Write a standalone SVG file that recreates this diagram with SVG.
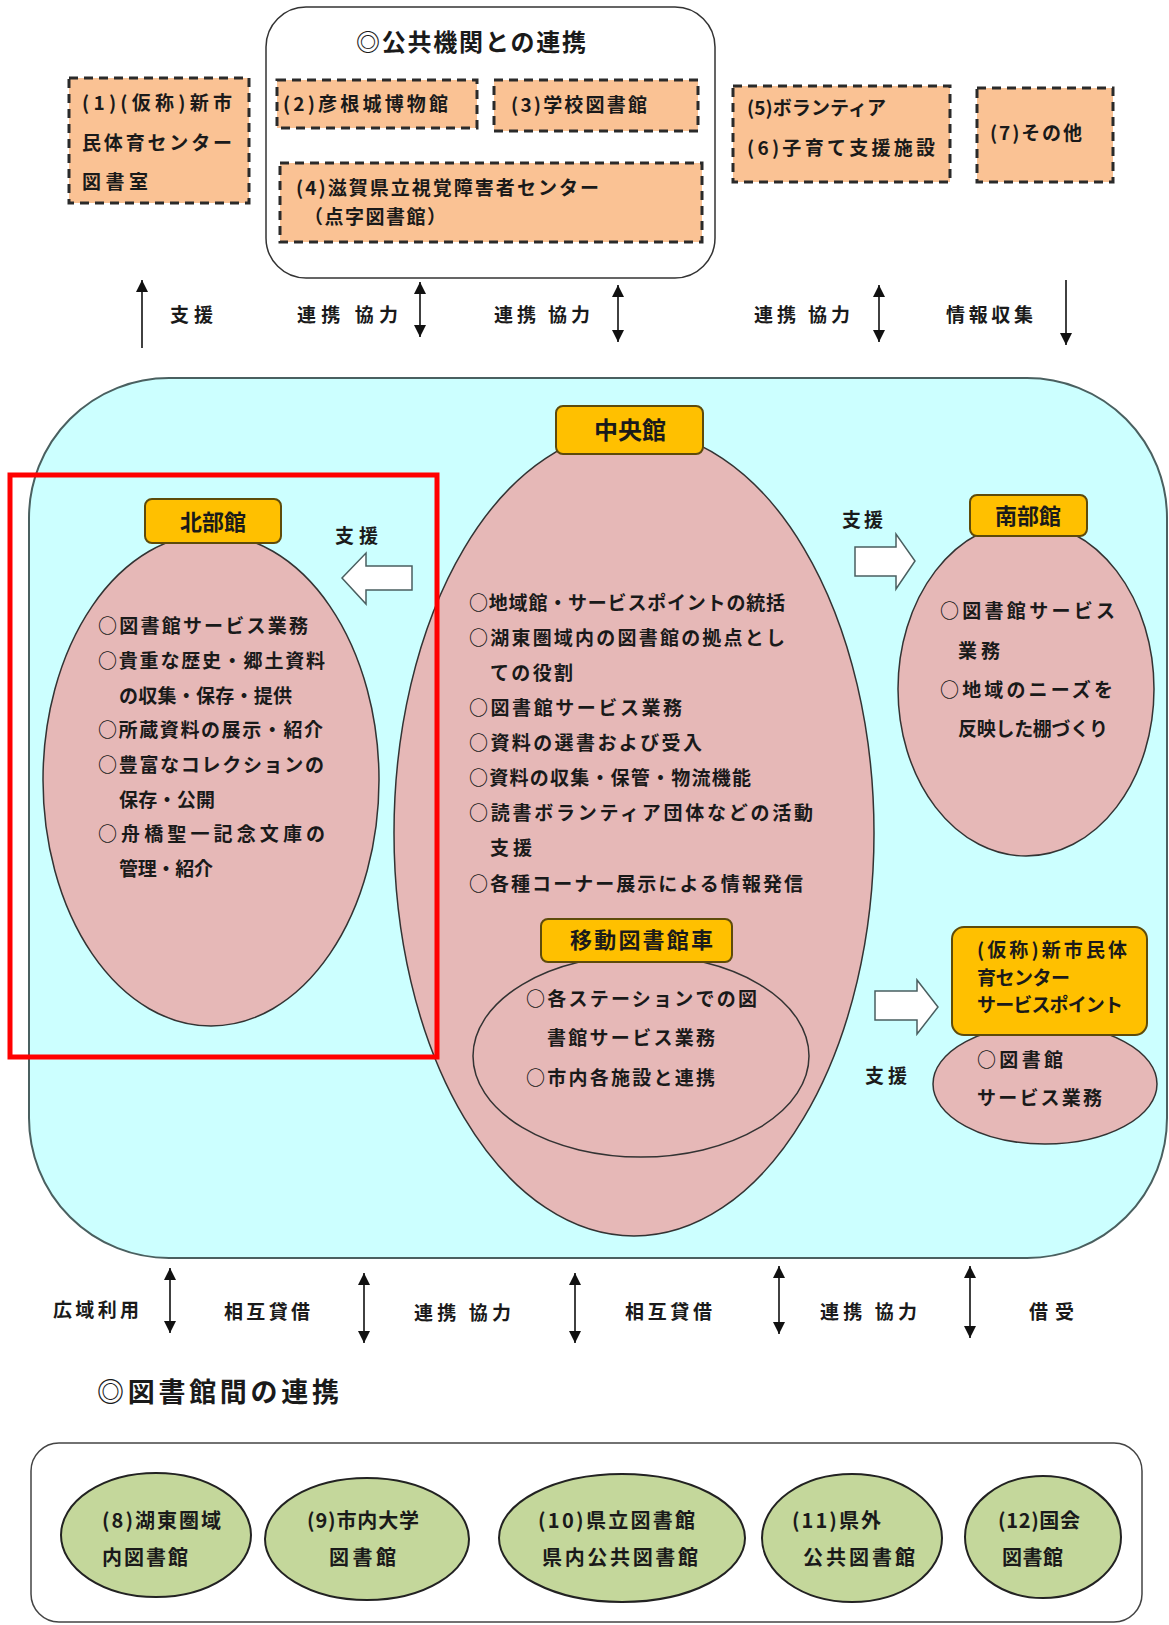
<svg xmlns="http://www.w3.org/2000/svg" width="1169" height="1625" viewBox="0 0 1169 1625">
<style>
.t{font-family:"Noto Sans CJK JP","Noto Sans CJK SC",sans-serif;font-weight:700;font-size:19px;fill:#1a1a1a}
.c{text-anchor:middle}
.big{font-size:24px}
.lab{font-size:22px}
.g{font-size:20px}
.dash{fill:#FAC294;stroke:#2a2a2a;stroke-width:3;stroke-dasharray:9 6}
.gold{fill:#FFC000;stroke:#5e4b0a;stroke-width:2}
.pink{fill:#E6B8B7;stroke:#333;stroke-width:1.5}
.green{fill:#C4D79B;stroke:#222;stroke-width:2}
.ln{stroke:#111;stroke-width:1.6;fill:none}
.blk{fill:#fff;stroke:#4a5f60;stroke-width:1.5}
</style>
<defs>
<marker id="ah" viewBox="0 0 12 12" refX="12" refY="6" markerWidth="12" markerHeight="12" markerUnits="userSpaceOnUse" orient="auto-start-reverse"><path d="M0,0 L12,6 L0,12 z" fill="#111"/></marker>
</defs>
<rect width="1169" height="1625" fill="#fff"/>

<g id="public-group">
<rect x="266" y="7" width="449" height="271" rx="40" fill="#fff" stroke="#333" stroke-width="1.5"/>
<text class="t big" x="356" y="51" textLength="230">◎公共機関との連携</text>
</g>
<g id="n1"><rect class="dash" x="69" y="78" width="180" height="125"/>
<text class="t" x="82" y="110" textLength="150">(1)(仮称)新市</text>
<text class="t" x="82" y="150" textLength="150">民体育センター</text>
<text class="t" x="82" y="189" textLength="66">図書室</text></g>
<g id="n2"><rect class="dash" x="277" y="80" width="200" height="48"/>
<text class="t" x="283" y="111" textLength="165">(2)彦根城博物館</text></g>
<g id="n3"><rect class="dash" x="494" y="80" width="204" height="51"/>
<text class="t" x="511" y="112" textLength="136">(3)学校図書館</text></g>
<g id="n4"><rect class="dash" x="280" y="163" width="422" height="79"/>
<text class="t" x="296" y="195" textLength="303">(4)滋賀県立視覚障害者センター</text>
<text class="t" x="304" y="224" textLength="142">（点字図書館）</text></g>
<g id="n56"><rect class="dash" x="733" y="86" width="217" height="96"/>
<text class="t" x="747" y="115" textLength="139">(5)ボランティア</text>
<text class="t" x="747" y="155" textLength="188">(6)子育て支援施設</text></g>
<g id="n7"><rect class="dash" x="977" y="88" width="136" height="94"/>
<text class="t" x="990" y="140" textLength="92">(7)その他</text></g>

<g id="city-area">
<rect x="29" y="378" width="1138" height="880" rx="140" fill="#CCFFFF" stroke="#4a6060" stroke-width="2"/>
</g>

<g id="north">
<ellipse class="pink" cx="211" cy="780" rx="168" ry="246"/>
<rect class="gold" x="145" y="499" width="136" height="44" rx="7"/>
<text class="t lab c" x="213" y="530">北部館</text>
<text class="t" x="98" y="633" textLength="210">○図書館サービス業務</text>
<text class="t" x="98" y="668" textLength="227">○貴重な歴史・郷土資料</text>
<text class="t" x="119" y="703" textLength="173">の収集・保存・提供</text>
<text class="t" x="98" y="737" textLength="225">○所蔵資料の展示・紹介</text>
<text class="t" x="98" y="772" textLength="226">○豊富なコレクションの</text>
<text class="t" x="119" y="807" textLength="96">保存・公開</text>
<text class="t" x="98" y="841" textLength="227">○舟橋聖一記念文庫の</text>
<text class="t" x="119" y="876" textLength="94">管理・紹介</text>
</g>

<g id="central">
<ellipse class="pink" cx="634" cy="833" rx="240" ry="403"/>
<rect class="gold" x="556" y="406" width="147" height="48" rx="7"/>
<text class="t big c" x="630" y="439">中央館</text>
<text class="t" x="469" y="610" textLength="316">○地域館・サービスポイントの統括</text>
<text class="t" x="469" y="645" textLength="316">○湖東圏域内の図書館の拠点とし</text>
<text class="t" x="490" y="680" textLength="83">ての役割</text>
<text class="t" x="469" y="715" textLength="213">○図書館サービス業務</text>
<text class="t" x="469" y="750" textLength="233">○資料の選書および受入</text>
<text class="t" x="469" y="785" textLength="282">○資料の収集・保管・物流機能</text>
<text class="t" x="469" y="820" textLength="344">○読書ボランティア団体などの活動</text>
<text class="t" x="490" y="855" textLength="42">支援</text>
<text class="t" x="469" y="891" textLength="334">○各種コーナー展示による情報発信</text>
</g>

<g id="mobile">
<ellipse class="pink" cx="641" cy="1056" rx="168" ry="101"/>
<rect class="gold" x="541" y="919" width="191" height="43" rx="7"/>
<text class="t lab" x="570" y="948" textLength="143">移動図書館車</text>
<text class="t" x="526" y="1006" textLength="231">○各ステーションでの図</text>
<text class="t" x="547" y="1045" textLength="168">書館サービス業務</text>
<text class="t" x="526" y="1085" textLength="189">○市内各施設と連携</text>
</g>

<g id="south">
<ellipse class="pink" cx="1026" cy="689" rx="128" ry="167"/>
<rect class="gold" x="970" y="495" width="117" height="41" rx="7"/>
<text class="t lab c" x="1028" y="524">南部館</text>
<text class="t" x="940" y="618" textLength="175">○図書館サービス</text>
<text class="t" x="958" y="658" textLength="42">業務</text>
<text class="t" x="940" y="697" textLength="173">○地域のニーズを</text>
<text class="t" x="958" y="736" textLength="150">反映した棚づくり</text>
</g>

<g id="service-point">
<ellipse class="pink" cx="1045" cy="1084" rx="112" ry="60"/>
<rect class="gold" x="952" y="927" width="195" height="108" rx="12"/>
<text class="t" x="977" y="957" textLength="150">(仮称)新市民体</text>
<text class="t" x="977" y="985" textLength="93">育センター</text>
<text class="t" x="977" y="1012" textLength="146">サービスポイント</text>
<text class="t" x="977" y="1067" textLength="86">○図書館</text>
<text class="t" x="977" y="1105" textLength="125">サービス業務</text>
</g>

<g id="connectors">
<line class="ln" x1="142" y1="348" x2="142" y2="280" marker-end="url(#ah)"/>
<line class="ln" x1="420" y1="282" x2="420" y2="337" marker-start="url(#ah)" marker-end="url(#ah)"/>
<line class="ln" x1="618" y1="285" x2="618" y2="342" marker-start="url(#ah)" marker-end="url(#ah)"/>
<line class="ln" x1="879" y1="285" x2="879" y2="342" marker-start="url(#ah)" marker-end="url(#ah)"/>
<line class="ln" x1="1066" y1="280" x2="1066" y2="345" marker-end="url(#ah)"/>
<text class="t" x="170" y="322" textLength="43">支援</text>
<text class="t" x="297" y="322" textLength="101">連携 協力</text>
<text class="t" x="494" y="322" textLength="96">連携 協力</text>
<text class="t" x="754" y="322" textLength="96">連携 協力</text>
<text class="t" x="946" y="322" textLength="87">情報収集</text>

<polygon class="blk" points="342,578 366,553 366,566 412,566 412,590 366,590 366,604"/>
<text class="t" x="335" y="543" textLength="43">支援</text>
<polygon class="blk" points="855,547 896,547 896,534 915,561 896,589 896,576 855,576"/>
<text class="t" x="842" y="527" textLength="41">支援</text>
<polygon class="blk" points="875,991 917,991 917,980 938,1007 917,1034 917,1020 875,1020"/>
<text class="t" x="865" y="1083" textLength="42">支援</text>

<line class="ln" x1="170" y1="1268" x2="170" y2="1333" marker-start="url(#ah)" marker-end="url(#ah)"/>
<line class="ln" x1="364" y1="1273" x2="364" y2="1343" marker-start="url(#ah)" marker-end="url(#ah)"/>
<line class="ln" x1="575" y1="1273" x2="575" y2="1343" marker-start="url(#ah)" marker-end="url(#ah)"/>
<line class="ln" x1="779" y1="1266" x2="779" y2="1334" marker-start="url(#ah)" marker-end="url(#ah)"/>
<line class="ln" x1="970" y1="1266" x2="970" y2="1338" marker-start="url(#ah)" marker-end="url(#ah)"/>
<text class="t" x="53" y="1317" textLength="86">広域利用</text>
<text class="t" x="224" y="1319" textLength="86">相互貸借</text>
<text class="t" x="414" y="1320" textLength="97">連携 協力</text>
<text class="t" x="625" y="1319" textLength="87">相互貸借</text>
<text class="t" x="820" y="1319" textLength="97">連携 協力</text>
<text class="t" x="1029" y="1319" textLength="45">借受</text>
</g>

<g id="library-group">
<text class="t" style="font-size:27px" x="97" y="1402" textLength="242">◎図書館間の連携</text>
<rect x="31" y="1443" width="1111" height="179" rx="28" fill="#fff" stroke="#444" stroke-width="1.5"/>
</g>
<g id="n8"><ellipse class="green" cx="156" cy="1535" rx="95" ry="62"/>
<text class="t g" x="102" y="1528" textLength="119">(8)湖東圏域</text>
<text class="t g" x="102" y="1565" textLength="86">内図書館</text></g>
<g id="n9"><ellipse class="green" cx="367" cy="1539" rx="102" ry="61"/>
<text class="t g" x="307" y="1528" textLength="112">(9)市内大学</text>
<text class="t g" x="329" y="1565" textLength="67">図書館</text></g>
<g id="n10"><ellipse class="green" cx="622" cy="1538" rx="123" ry="64"/>
<text class="t g" x="538" y="1528" textLength="157">(10)県立図書館</text>
<text class="t g" x="542" y="1565" textLength="156">県内公共図書館</text></g>
<g id="n11"><ellipse class="green" cx="852" cy="1538" rx="90" ry="64"/>
<text class="t g" x="792" y="1528" textLength="89">(11)県外</text>
<text class="t g" x="803" y="1565" textLength="112">公共図書館</text></g>
<g id="n12"><ellipse class="green" cx="1043" cy="1537" rx="78" ry="61"/>
<text class="t g" x="998" y="1528" textLength="82">(12)国会</text>
<text class="t g" x="1002" y="1565" textLength="61">図書館</text></g>

<rect x="10" y="475" width="427" height="582" fill="none" stroke="#ff0000" stroke-width="5"/>
</svg>
